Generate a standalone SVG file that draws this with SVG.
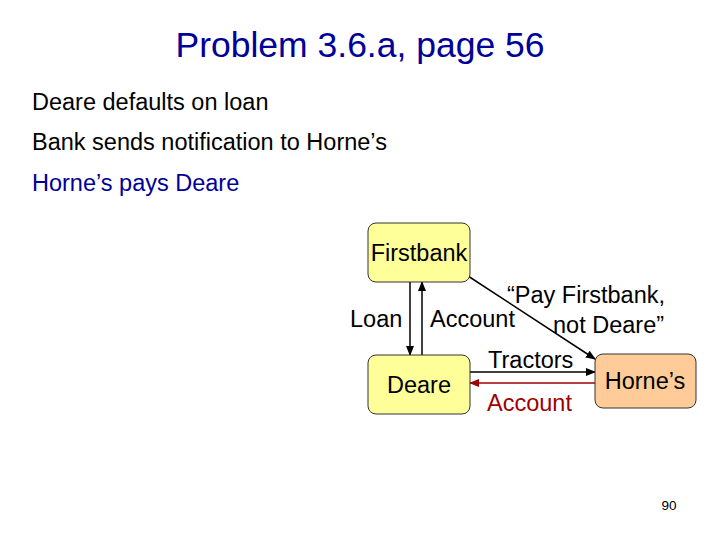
<svg xmlns="http://www.w3.org/2000/svg" width="720" height="540" viewBox="0 0 720 540">
<style>
text{font-family:"Liberation Sans",Arial,sans-serif;}
.box{stroke:#333;stroke-width:1}
.y{fill:#ffff99}
.o{fill:#ffcc99}
.lbl{font-size:23.5px;fill:#000}
.ln{stroke:#000;stroke-width:1.5;fill:none}
.red{stroke:#a00000;stroke-width:1.5;fill:none}
</style>
<defs>
<marker id="ah" markerWidth="10" markerHeight="8" refX="9" refY="4" orient="auto" markerUnits="userSpaceOnUse"><path d="M0,0 L10,4 L0,8 z" fill="#000"/></marker>
<marker id="ahr" markerWidth="10" markerHeight="8" refX="9" refY="4" orient="auto" markerUnits="userSpaceOnUse"><path d="M0,0 L10,4 L0,8 z" fill="#a00000"/></marker>
</defs>
<rect width="720" height="540" fill="#fff"/>
<text x="360" y="57" text-anchor="middle" font-size="35.5" fill="#000099">Problem 3.6.a, page 56</text>
<text x="32" y="110" font-size="23.5" fill="#000">Deare defaults on loan</text>
<text x="32" y="150" font-size="23.5" fill="#000">Bank sends notification to Horne’s</text>
<text x="32" y="191" font-size="23.5" fill="#000099">Horne’s pays Deare</text>
<g id="connectors">
<line class="ln" x1="410" y1="282" x2="410" y2="355" marker-end="url(#ah)"/>
<line class="ln" x1="422" y1="355" x2="422" y2="282" marker-end="url(#ah)"/>
<line class="ln" x1="468" y1="276" x2="595" y2="359" marker-end="url(#ah)"/>
<line class="ln" x1="470" y1="372" x2="595" y2="372" marker-end="url(#ah)"/>
<line class="red" x1="595" y1="383" x2="470" y2="383" marker-end="url(#ahr)"/>
<text x="350" y="327" class="lbl">Loan</text>
<text x="430" y="327" class="lbl">Account</text>
<text x="507" y="303" class="lbl">“Pay Firstbank,</text>
<text x="553" y="333" class="lbl">not Deare”</text>
<text x="488" y="368" class="lbl">Tractors</text>
<text x="487" y="411" class="lbl" style="fill:#a00000">Account</text>
</g>
<g id="firstbank">
<rect class="box y" x="368" y="223" width="102" height="59" rx="8"/>
<text x="419" y="261" text-anchor="middle" class="lbl">Firstbank</text>
</g>
<g id="deare">
<rect class="box y" x="368" y="355" width="102" height="59" rx="8"/>
<text x="419" y="393" text-anchor="middle" class="lbl">Deare</text>
</g>
<g id="hornes">
<rect class="box o" x="595" y="354" width="101" height="54" rx="8"/>
<text x="645" y="389" text-anchor="middle" class="lbl">Horne’s</text>
</g>
<text x="669" y="510" text-anchor="middle" font-size="13.5" fill="#000">90</text>
</svg>
